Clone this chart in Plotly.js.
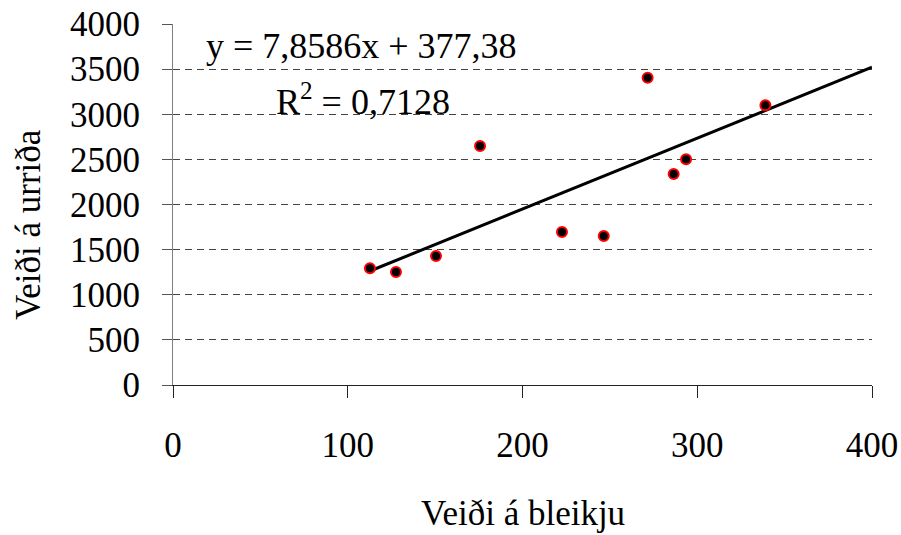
<!DOCTYPE html>
<html>
<head>
<meta charset="utf-8">
<script src="https://cdn.plot.ly/plotly-3.0.1.min.js"></script>
<style>html,body{margin:0;padding:0;background:#fff;}#chart{width:901px;height:535px;}</style>
</head>
<body>
<div id="chart"></div>
<script>
// Data
const bleikja = [112.7, 127.6, 150.5, 175.7, 222.6, 246.5, 271.6, 286.5, 293.6, 339.0];
const urridi  = [1293, 1252, 1429, 2648, 1695, 1651, 3405, 2338, 2501, 3099];
// Linear trend line shown in the chart: y = 7,8586x + 377,38
const slope = 7.8586;
const intercept = 377.38;
const trendX = [Math.min(...bleikja), 400];
const trendY = trendX.map(v => slope * v + intercept);

const xTicks = [0, 100, 200, 300, 400];
const yTicks = [0, 500, 1000, 1500, 2000, 2500, 3000, 3500, 4000];
const xTitle = 'Veiði á bleikju';
const yTitle = 'Veiði á urriða';
const eqText = 'y = 7,8586x + 377,38';
const r2Text = 'R<sup>2</sup> = 0,7128';

const FONT = 'Liberation Serif, Times New Roman, serif';
const FS = 35;

const traces = [
  {
    x: trendX, y: trendY, type: 'scatter', mode: 'lines',
    line: {color: '#000', width: 3}, hoverinfo: 'skip', showlegend: false
  },
  {
    x: bleikja, y: urridi, type: 'scatter', mode: 'markers',
    marker: {color: '#000', size: 10, line: {color: '#ff0000', width: 2}},
    showlegend: false
  }
];

const layout = {
  width: 901, height: 535,
  margin: {l: 173, r: 29, t: 24, b: 150},
  paper_bgcolor: '#fff', plot_bgcolor: '#fff',
  font: {family: FONT, size: FS, color: '#000'},
  showlegend: false,
  xaxis: {
    range: [0, 400], tickvals: xTicks, ticktext: xTicks.map(String),
    showgrid: false, zeroline: false,
    showline: true, linecolor: '#222', linewidth: 1,
    ticks: 'outside', ticklen: 12, tickcolor: '#222', tickwidth: 1,
    ticklabelstandoff: 17,
    tickfont: {family: FONT, size: FS, color: '#000'}
  },
  yaxis: {
    range: [0, 4000], tickvals: yTicks, ticktext: yTicks.map(String),
    showgrid: true, gridcolor: '#444', gridwidth: 1, griddash: '7px,5px',
    zeroline: false,
    showline: true, linecolor: '#808080', linewidth: 1,
    ticks: 'outside', ticklen: 10, tickcolor: '#555', tickwidth: 1,
    ticklabelstandoff: 15,
    tickfont: {family: FONT, size: FS, color: '#000'}
  },
  annotations: [
    {text: xTitle, xref: 'paper', yref: 'paper', x: 0.5, y: -0.356,
     xanchor: 'center', yanchor: 'middle', showarrow: false, borderpad: 0,
     font: {family: FONT, size: FS, color: '#000'}},
    {text: yTitle, xref: 'paper', yref: 'paper', x: -0.2074, y: 0.443,
     xanchor: 'center', yanchor: 'middle', showarrow: false, textangle: -90,
     font: {family: FONT, size: FS, color: '#000'}},
    {text: eqText, xref: 'x', yref: 'y', x: 107.6, y: 3755,
     xanchor: 'center', yanchor: 'middle', showarrow: false,
     font: {family: FONT, size: 36, color: '#000'}},
    {text: r2Text, xref: 'x', yref: 'y', x: 108.7, y: 3158,
     xanchor: 'center', yanchor: 'middle', showarrow: false,
     font: {family: FONT, size: 36, color: '#000'}}
  ]
};

Plotly.newPlot('chart', traces, layout, {staticPlot: true, displayModeBar: false});
</script>
</body>
</html>
